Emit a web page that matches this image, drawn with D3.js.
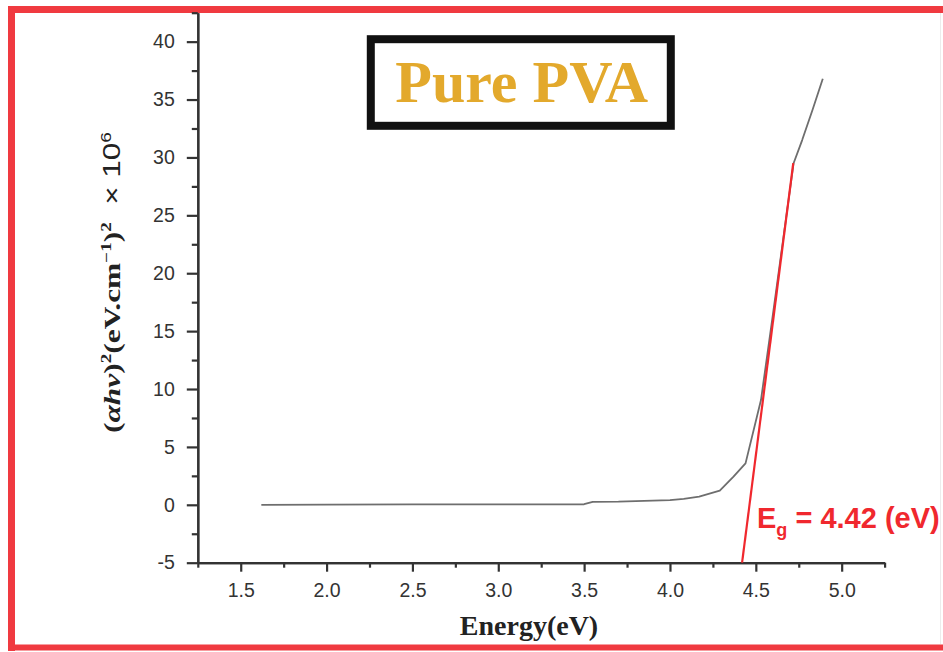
<!DOCTYPE html>
<html>
<head>
<meta charset="utf-8">
<script src="https://cdn.jsdelivr.net/npm/d3@7"></script>
<style>
  html, body { margin: 0; padding: 0; background: #fff; overflow: hidden; }
  svg { display: block; }
</style>
</head>
<body>
<svg id="chart" width="943" height="652"></svg>
<script>
// ---- data ----
const energy = [1.62, 2.0, 2.5, 3.0, 3.5, 3.55, 3.7, 4.0, 4.08, 4.17, 4.29, 4.37, 4.44, 4.53, 4.6, 4.72, 4.77, 4.83, 4.89];
const absorb = [0.0, 0.02, 0.03, 0.04, 0.05, 0.25, 0.27, 0.41, 0.52, 0.70, 1.22, 2.43, 3.58, 9.05, 16.5, 29.5, 31.5, 34.1, 36.8];
const fitEnergy = [4.42, 4.718];
const fitValue = [-5, 29.5];
const xTicks = [1.5, 2.0, 2.5, 3.0, 3.5, 4.0, 4.5, 5.0];
const xMinorTicks = [1.25, 1.75, 2.25, 2.75, 3.25, 3.75, 4.25, 4.75, 5.25];
const yTicks = [-5, 0, 5, 10, 15, 20, 25, 30, 35, 40];
const yMinorTicks = [-2.5, 2.5, 7.5, 12.5, 17.5, 22.5, 27.5, 32.5, 37.5, 42.5];
const titleText = "Pure PVA";
const egText = " = 4.42 (eV)";

const svg = d3.select("#chart");

const x = d3.scaleLinear().domain([1.25, 5.25]).range([197.8, 884.6]);
const y = d3.scaleLinear().domain([-5, 42.5]).range([562.7, 12.7]);

// outer red frame (right side lies outside the picture)
const frameColor = "#F03A40";
svg.append("line").attr("x1", 8).attr("x2", 943).attr("y1", 9.5).attr("y2", 9.5)
  .attr("stroke", frameColor).attr("stroke-width", 7);
svg.append("line").attr("x1", 11.5).attr("x2", 11.5).attr("y1", 6).attr("y2", 651)
  .attr("stroke", frameColor).attr("stroke-width", 7);
svg.append("line").attr("x1", 8).attr("x2", 943).attr("y1", 647.5).attr("y2", 647.5)
  .attr("stroke", frameColor).attr("stroke-width", 6);
svg.append("line")
  .attr("x1", 940.5).attr("x2", 940.5).attr("y1", 13).attr("y2", 644)
  .attr("stroke", "#ececec").attr("stroke-width", 1);

// axes
const axisColor = "#333";
const fontSans = "Arial, 'Liberation Sans', sans-serif";
const fontSerif = "'Times New Roman', 'Liberation Serif', serif";

const gx = svg.append("g").attr("transform", `translate(0,${y(-5)})`);
gx.call(d3.axisBottom(x).tickValues(xTicks).tickFormat(d => d.toFixed(1))
  .tickSizeInner(9).tickSizeOuter(0).tickPadding(11));
const gxm = svg.append("g").attr("transform", `translate(0,${y(-5)})`);
gxm.call(d3.axisBottom(x).tickValues(xMinorTicks).tickFormat("")
  .tickSizeInner(5).tickSizeOuter(0));

const gy = svg.append("g").attr("transform", `translate(${x(1.25)},0)`);
gy.call(d3.axisLeft(y).tickValues(yTicks).tickFormat(d => String(d))
  .tickSizeInner(11).tickSizeOuter(0).tickPadding(12));
const gym = svg.append("g").attr("transform", `translate(${x(1.25)},0)`);
gym.call(d3.axisLeft(y).tickValues(yMinorTicks).tickFormat("")
  .tickSizeInner(6).tickSizeOuter(0));

[gx, gxm, gy, gym].forEach(g => {
  g.select(".domain").attr("stroke", axisColor).attr("stroke-width", 2.2);
  g.selectAll(".tick line").attr("stroke", axisColor).attr("stroke-width", 2.2);
  g.selectAll(".tick text").attr("fill", "#333")
    .style("font-family", fontSans).style("font-size", "19.5px");
});

// data curve
const line = d3.line().x(d => x(d[0])).y(d => y(d[1]));
svg.append("path")
  .datum(energy.map((e, i) => [e, absorb[i]]))
  .attr("d", line)
  .attr("fill", "none").attr("stroke", "#6e6e6e").attr("stroke-width", 1.8)
  .attr("stroke-linejoin", "round");

// linear fit
svg.append("path")
  .datum(fitEnergy.map((e, i) => [e, fitValue[i]]))
  .attr("d", line)
  .attr("fill", "none").attr("stroke", "#F0282E").attr("stroke-width", 2.2);

// Eg label
const eg = svg.append("text")
  .attr("x", 757).attr("y", 528)
  .attr("fill", "#F0282E")
  .style("font-family", fontSans).style("font-size", "29px").style("font-weight", "bold");
eg.append("tspan").text("E");
eg.append("tspan").attr("dy", 8).style("font-size", "18px").text("g");
eg.append("tspan").attr("dy", -8).text(egText);

// title box
svg.append("rect")
  .attr("x", 370.8).attr("y", 39.2).attr("width", 300).attr("height", 86.6)
  .attr("fill", "#fff").attr("stroke", "#111").attr("stroke-width", 8);
svg.append("text")
  .attr("x", 521.7).attr("y", 101.7).attr("text-anchor", "middle")
  .attr("fill", "#E3A92C")
  .style("font-family", fontSerif).style("font-size", "60px").style("font-weight", "bold")
  .text(titleText);

// x axis title
svg.append("text")
  .attr("x", 529).attr("y", 635).attr("text-anchor", "middle")
  .attr("fill", "#222")
  .style("font-family", fontSerif).style("font-size", "28px").style("font-weight", "bold")
  .text("Energy(eV)");

// y axis title (rotated)
const yl = svg.append("g").attr("transform", "translate(120,433) rotate(-90)");
const ylt = yl.append("text").attr("x", 0).attr("y", 0)
  .attr("fill", "#222")
  .style("font-family", fontSerif).style("font-size", "23px");
ylt.append("tspan").style("font-weight", "bold").text("(");
ylt.append("tspan").style("font-weight", "bold").style("font-style", "italic").text("αhν");
ylt.append("tspan").style("font-weight", "bold").text(")");
ylt.append("tspan").style("font-weight", "bold").style("font-size", "14px").attr("dy", -9).text("2");
ylt.append("tspan").style("font-weight", "bold").attr("dy", 9).text("(eV.cm");
ylt.append("tspan").style("font-weight", "bold").style("font-size", "14px").attr("dy", -9).text("−1");
ylt.append("tspan").style("font-weight", "bold").attr("dy", 9).text(")");
ylt.append("tspan").style("font-weight", "bold").style("font-size", "14px").attr("dy", -9).text("2");
ylt.append("tspan").attr("dy", 9).style("font-family", fontSans).style("font-weight", "normal").text("\u00A0\u00A0× 10");
ylt.append("tspan").style("font-family", fontSans).style("font-size", "14px").attr("dy", -9).text("6");
const len = ylt.node().getComputedTextLength();
const k = 301 / len;
yl.attr("transform", `translate(120,433) rotate(-90) scale(${k},1)`);
</script>
</body>
</html>
